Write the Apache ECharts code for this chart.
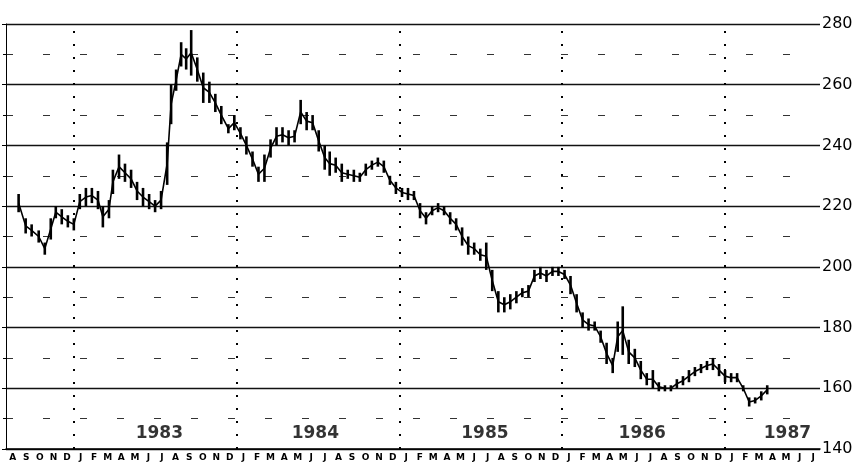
<!DOCTYPE html>
<html>
<head>
<meta charset="utf-8">
<style>
    html, body { margin: 0; padding: 0; background: #fff; }
    #chart { width: 864px; height: 464px; }
</style>
<script src="https://cdn.jsdelivr.net/npm/echarts@6/dist/echarts.min.js"></script>
</head>
<body>
<div id="chart"></div>
<script>
// month letters, Aug 1982 .. Jul 1987
const months = ['A', 'S', 'O', 'N', 'D'
    , 'J', 'F', 'M', 'A', 'M', 'J', 'J', 'A', 'S', 'O', 'N', 'D'
    , 'J', 'F', 'M', 'A', 'M', 'J', 'J', 'A', 'S', 'O', 'N', 'D'
    , 'J', 'F', 'M', 'A', 'M', 'J', 'J', 'A', 'S', 'O', 'N', 'D'
    , 'J', 'F', 'M', 'A', 'M', 'J', 'J', 'A', 'S', 'O', 'N', 'D'
    , 'J', 'F', 'M', 'A', 'M', 'J', 'J'];
const years = ['1983', '1984', '1985', '1986', '1987'];
// where each year label sits, in months from Aug 1982
const yearLabelAt = [11.3, 22.8, 35.3, 46.9, 57.6];
// January of each year, in months from Aug 1982
const yearStarts = [5, 17, 29, 41, 53];
const yTicks = [140, 160, 180, 200, 220, 240, 260, 280];

// bar time, in months from Aug 1982
const dates = [0.93, 1.45, 1.89, 2.41, 2.86, 3.30, 3.67, 4.11, 4.56, 5.00
    , 5.44, 5.89, 6.33, 6.78, 7.14, 7.59, 7.88, 8.33, 8.77, 9.22
    , 9.66, 10.10, 10.55, 10.99, 11.43, 11.88, 12.17, 12.54, 12.91, 13.28
    , 13.65, 14.10, 14.54, 14.99, 15.43, 15.87, 16.39, 16.83, 17.28, 17.72
    , 18.17, 18.61, 19.05, 19.50, 19.94, 20.38, 20.83, 21.27, 21.72, 22.16
    , 22.60, 23.05, 23.49, 23.86, 24.30, 24.75, 25.19, 25.64, 26.08, 26.52
    , 26.97, 27.41, 27.85, 28.30, 28.74, 29.19, 29.63, 30.07, 30.52, 30.96
    , 31.41, 31.85, 32.29, 32.74, 33.18, 33.62, 34.07, 34.51, 34.96, 35.40
    , 35.84, 36.29, 36.73, 37.17, 37.62, 38.06, 38.51, 38.95, 39.39, 39.84
    , 40.28, 40.72, 41.17, 41.61, 42.06, 42.50, 42.94, 43.39, 43.83, 44.27
    , 44.72, 45.09, 45.46, 45.90, 46.35, 46.79, 47.23, 47.68, 48.12, 48.57
    , 49.01, 49.45, 49.90, 50.34, 50.78, 51.23, 51.67, 52.11, 52.56, 53.00
    , 53.45, 53.89, 54.34, 54.78, 55.22, 55.67, 56.11];
const highs = [224, 216, 214, 212, 208, 216, 220, 219, 217, 216
    , 224, 226, 226, 225, 220, 222, 232, 237, 234, 232
    , 228, 226, 224, 222, 225, 241, 260, 265, 274, 272
    , 278, 269, 264, 261, 257, 253, 247, 250, 246, 243
    , 238, 233, 237, 242, 246, 246, 245, 245, 255, 251
    , 250, 245, 240, 238, 236, 234, 232, 232, 231, 234
    , 235, 236, 235, 230, 228, 226, 226, 225, 221, 218
    , 220, 221, 220, 218, 216, 213, 210, 208, 206, 208
    , 199, 192, 190, 191, 192, 193, 194, 199, 200, 199
    , 200, 200, 199, 197, 191, 185, 183, 182, 179, 175
    , 170, 182, 187, 176, 173, 169, 165, 166, 162, 161
    , 161, 163, 164, 166, 167, 168, 169, 170, 168, 166
    , 165, 165, 161, 157, 157, 159, 161];
const lows = [218, 211, 210, 208, 204, 209, 216, 214, 213, 212
    , 219, 220, 221, 219, 213, 216, 224, 229, 228, 226
    , 222, 220, 219, 218, 219, 227, 247, 258, 266, 265
    , 263, 261, 254, 254, 251, 247, 244, 245, 242, 237
    , 233, 228, 228, 236, 240, 241, 240, 241, 247, 245
    , 245, 238, 232, 230, 231, 228, 229, 228, 228, 230
    , 232, 233, 231, 227, 224, 223, 222, 222, 216, 214
    , 217, 218, 217, 214, 212, 207, 204, 204, 202, 199
    , 192, 185, 185, 186, 188, 190, 190, 195, 196, 195
    , 197, 197, 196, 191, 185, 180, 179, 179, 175, 168
    , 165, 172, 171, 168, 167, 163, 161, 160, 159, 159
    , 159, 160, 161, 162, 164, 165, 166, 166, 164, 162
    , 162, 162, 159, 154, 155, 156, 158];

const chart = echarts.init(document.getElementById('chart'));
const ink = '#000';

const bars = dates.map(function (d, i) {
    return [d, highs[i], lows[i]];
});
// thin trace through the middle of each bar, so the bars read as one ragged line
const mids = dates.map(function (d, i) {
    return [d, (highs[i] + lows[i]) / 2];
});

chart.setOption({
    backgroundColor: '#fff'
    , animation: false
    , grid: {left: 6, right: 44, top: 24, bottom: 15}
    , xAxis: [
        {
            type: 'category'
            , data: months
            , boundaryGap: true
            , axisLine: {lineStyle: {color: ink, width: 1.5}}
            , axisTick: {inside: true, length: 4, lineStyle: {color: ink}}
            , axisLabel: {
                color: ink
                , fontFamily: 'DejaVu Sans'
                , fontWeight: 'bold'
                , fontSize: 9
                , margin: 4
                , interval: 0
            }
            , splitLine: {show: false}
        }
        , {
            type: 'value'
            , min: 0
            , max: 60
            , show: false
        }
    ]
    , yAxis: {
        type: 'value'
        , position: 'right'
        , min: 140
        , max: 280
        , interval: 20
        , axisLine: {show: true, lineStyle: {color: ink, width: 1}}
        , axisTick: {show: true, inside: true, length: 4, lineStyle: {color: ink}}
        , minorTick: {show: true, splitNumber: 2, length: 3, lineStyle: {color: ink}}
        , axisLabel: {
            color: ink
            , fontFamily: 'DejaVu Sans'
            , fontSize: 16
            , margin: 2
            , formatter: function (v) {
                return yTicks.indexOf(v) >= 0 ? String(v) : '';
            }
        }
        , splitLine: {show: true, lineStyle: {color: '#111', width: 1.4}}
        , minorSplitLine: {show: true, lineStyle: {color: '#333', width: 1, type: [7, 30]}}
    }
    , series: [
        {
            type: 'line'
            , xAxisIndex: 1
            , data: mids
            , symbol: 'none'
            , silent: true
            , lineStyle: {color: ink, width: 1.6}
            , z: 3
        }
        , {
            type: 'custom'
            , xAxisIndex: 1
            , data: bars
            , encode: {x: 0, y: [1, 2]}
            , z: 4
            , renderItem: function (params, api) {
                const top = api.coord([api.value(0), api.value(1)]);
                const bottom = api.coord([api.value(0), api.value(2)]);
                const w = 2.6;
                return {
                    type: 'rect'
                    , shape: {
                        x: top[0] - w / 2
                        , y: top[1]
                        , width: w
                        , height: Math.max(bottom[1] - top[1], 2)
                    }
                    , style: {fill: ink}
                };
            }
            , markLine: {
                silent: true
                , symbol: 'none'
                , label: {show: false}
                , lineStyle: {color: ink, width: 2, type: [2, 11]}
                , data: yearStarts.map(function (m) {
                    return {xAxis: m};
                })
            }
        }
        , {
            type: 'scatter'
            , xAxisIndex: 1
            , symbolSize: 0
            , silent: true
            , data: years.map(function (y, i) {
                return {name: y, value: [yearLabelAt[i], 145]};
            })
            , label: {
                show: true
                , position: 'inside'
                , formatter: '{b}'
                , color: ink
                , fontFamily: 'DejaVu Sans'
                , fontWeight: 'bold'
                , fontSize: 17
            }
        }
    ]
});
</script>
</body>
</html>
